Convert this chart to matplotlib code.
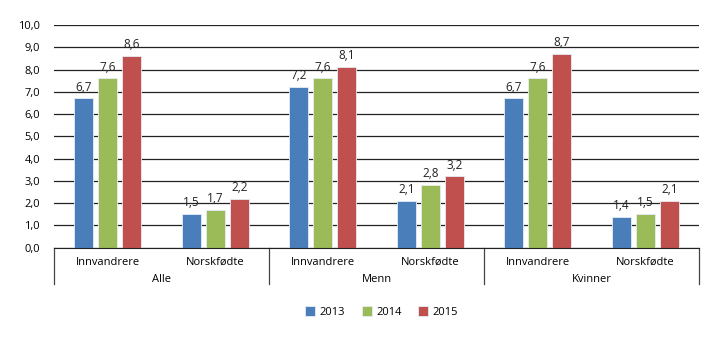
import numpy as np
import matplotlib.pyplot as plt
from matplotlib.transforms import blended_transform_factory

plt.rcParams['font.family'] = ['Open Sans', 'DejaVu Sans']

groups = ['Alle', 'Menn', 'Kvinner']
categories = ['Innvandrere', 'Norskfødte'] * 3
years = ['2013', '2014', '2015']
v2013 = [6.7, 1.5, 7.2, 2.1, 6.7, 1.4]
v2014 = [7.6, 1.7, 7.6, 2.8, 7.6, 1.5]
v2015 = [8.6, 2.2, 8.1, 3.2, 8.7, 2.1]
colors = ['#4a7ebb', '#9bbb59', '#c0504d']

fig = plt.figure(figsize=(7.2, 3.41), dpi=100)
ax = fig.add_axes([0.075, 0.2736, 0.896, 0.6531])

x = np.arange(len(categories))
w = 0.177
step = 0.223
for i, (vals, col, yr) in enumerate(zip([v2013, v2014, v2015], colors, years)):
    xs = x + (i - 1) * step
    ax.bar(xs, vals, width=w, color=col, edgecolor='#e6ecf4', linewidth=0.6,
           label=yr, zorder=3)
    for xi, v in zip(xs, vals):
        ax.text(xi, v + 0.22, f'{v:.1f}'.replace('.', ','), ha='center',
                va='bottom', fontsize=8.5, color='#222222')

ax.set_xlim(-0.5, len(categories) - 0.5)
ax.set_ylim(0, 10)
ax.set_yticks(np.arange(0, 10.1, 1))
ax.set_yticklabels([f'{t:.1f}'.replace('.', ',') for t in np.arange(0, 10.1, 1)],
                   fontsize=8)
ax.tick_params(axis='y', length=0, pad=10)
ax.set_xticks([])
ax.grid(axis='y', color='#222222', linewidth=0.9, zorder=0)
for s in ['top', 'right', 'left']:
    ax.spines[s].set_visible(False)
ax.spines['bottom'].set_color('#222222')
ax.spines['bottom'].set_zorder(4)

trans = blended_transform_factory(ax.transData, ax.transAxes)
for xi, c in zip(x, categories):
    ax.text(xi, -0.065, c, transform=trans, ha='center', va='center', fontsize=8)
for gi, g in enumerate(groups):
    ax.text(2 * gi + 0.5, -0.145, g, transform=trans, ha='center', va='center',
            fontsize=8)
for sx in [-0.5, 1.5, 3.5, 5.5]:
    ax.plot([sx, sx], [0, -0.163], transform=trans, color='#444444',
            linewidth=0.9, clip_on=False)

fig.legend(loc='center', bbox_to_anchor=(0.53, 0.085), ncol=3, frameon=False,
           fontsize=8, handlelength=0.9, handleheight=0.9, columnspacing=1.5,
           handletextpad=0.4)

fig.savefig('out.png', dpi=100)
